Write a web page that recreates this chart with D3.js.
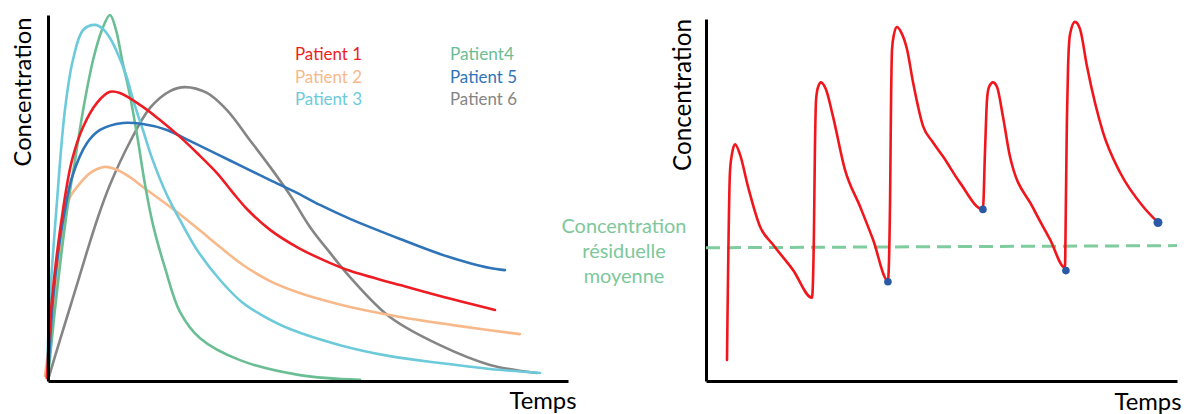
<!DOCTYPE html>
<html><head><meta charset="utf-8">
<script src="https://cdn.jsdelivr.net/npm/d3@7"></script>
<style>body{margin:0;background:#fff}svg{display:block}</style>
</head><body>
<svg id="chart" width="1186" height="414"></svg>
<script>
// ---------- DATA ----------
// Left panel: concentration-time profiles of six patients (time in h, concentration in arbitrary units)
const patientNames = ["Patient 1", "Patient 2", "Patient 3", "Patient4", "Patient 5", "Patient 6"];
const patientColors = ["#EE1D23", "#F8B98A", "#6CCADA", "#6BBE94", "#2F74B8", "#858585"];

const p1Time = [-0.05, 0.18, 0.69, 1.11, 1.62, 2.26, 2.86, 3.32, 4.38, 5.17, 6.09, 6.88, 7.80, 8.54, 9.18, 10.25, 11.49, 12.69, 13.94, 16.25, 18.09, 20.63];
const p1Conc = [0.8, 22.1, 46.7, 60.4, 69.4, 76.0, 79.0, 78.7, 74.9, 71.3, 66.7, 62.3, 56.8, 51.4, 47.0, 41.3, 36.6, 33.1, 30.1, 26.2, 23.2, 19.4];

const p2Time = [-0.14, 0.32, 0.78, 1.02, 1.34, 1.94, 2.63, 3.09, 3.78, 4.38, 5.77, 6.88, 7.94, 9.00, 10.25, 11.49, 12.69, 13.94, 16.25, 19.02, 21.78];
const p2Conc = [1.4, 22.1, 45.4, 50.3, 53.0, 56.8, 58.5, 57.9, 55.7, 53.0, 47.0, 41.8, 36.6, 31.7, 27.3, 24.3, 22.1, 20.2, 17.5, 15.0, 12.8];

const p3Time = [-0.05, 0.09, 0.42, 0.78, 1.15, 1.62, 2.17, 2.54, 2.86, 3.23, 3.60, 3.97, 4.38, 4.80, 5.49, 6.09, 6.88, 7.94, 9.00, 9.78, 11.17, 13.48, 15.78, 18.09, 20.40, 22.71];
const p3Conc = [0.8, 22.1, 49.5, 74.0, 87.7, 95.9, 97.3, 96.2, 93.7, 89.3, 83.6, 76.0, 68.6, 60.9, 50.8, 44.0, 35.8, 27.6, 21.3, 18.3, 14.2, 9.8, 6.8, 4.9, 3.3, 2.2];

const p4Time = [0, 0.37, 0.88, 1.25, 1.62, 2.08, 2.49, 2.86, 3.14, 3.42, 3.78, 4.11, 4.48, 4.85, 5.40, 6.09, 7.02, 8.86, 11.63, 14.40];
const p4Conc = [0.8, 22.1, 46.7, 60.4, 74.0, 87.7, 95.9, 100, 95.9, 87.7, 78.1, 67.2, 53.6, 42.6, 30.9, 18.9, 11.7, 5.7, 1.6, 0.3];

const p5Time = [0, 0.23, 0.55, 0.78, 1.11, 1.80, 2.40, 3.46, 4.38, 5.49, 6.55, 7.80, 9.00, 10.25, 11.49, 12.55, 13.94, 16.25, 18.09, 19.48, 20.40, 21.09];
const p5Conc = [0.8, 22.1, 38.5, 46.7, 55.7, 65.0, 68.6, 70.5, 70.2, 68.6, 65.6, 62.0, 58.5, 54.9, 51.4, 48.1, 44.3, 38.8, 34.7, 32.2, 30.9, 30.3];

const p6Time = [0, 0.55, 1.15, 1.75, 2.31, 2.86, 3.78, 4.71, 5.63, 6.32, 7.34, 8.26, 9.32, 10.25, 11.17, 12.09, 13.02, 13.94, 15.78, 18.09, 20.40, 22.57];
const p6Conc = [0.3, 11.2, 22.7, 34.4, 44.8, 53.6, 65.3, 74.6, 79.2, 80.3, 78.7, 74.0, 65.8, 58.5, 50.8, 42.1, 35.0, 28.4, 17.5, 9.8, 4.4, 2.2];

// Right panel: repeated dosing profile
const doseTime = [1.07, 1.22, 1.32, 1.48, 1.73, 2.14, 2.75, 3.41, 4.43, 5.40,
  5.50, 5.55, 5.61, 5.71, 5.86, 6.11, 6.47, 7.08, 7.85, 8.51, 9.27,
  9.38, 9.43, 9.48, 9.58, 9.73, 9.94, 10.24, 10.55, 11.06, 11.57, 12.08, 12.94, 14.11,
  14.22, 14.32, 14.42, 14.62, 14.83, 15.13, 15.49, 16.66, 17.53, 18.29,
  18.34, 18.39, 18.45, 18.55, 18.80, 19.06, 19.41, 20.23, 21.10, 22.27, 23.03];
const doseConc = [5.8, 57.6, 62.6, 65.4, 62.6, 53.7, 42.7, 37.7, 30.7, 23.0,
  41.0, 64.0, 77.8, 81.2, 82.5, 80.6, 73.1, 58.4, 48.2, 39.1, 27.7,
  50.1, 77.8, 91.7, 95.8, 97.8, 96.4, 91.7, 82.5, 70.4, 65.9, 62.0, 54.8, 47.4,
  64.0, 77.8, 81.2, 82.5, 81.2, 73.1, 62.0, 47.9, 39.1, 31.3,
  50.1, 72.0, 87.0, 95.8, 99.2, 97.2, 87.0, 68.7, 57.6, 48.2, 43.8];

const troughTime = [9.27, 14.11, 18.34, 23.03];
const troughConc = [27.4, 47.4, 30.5, 43.8];

const meanTroughTime = [0, 24];
const meanTroughConc = [36.8, 37.4];

const yAxisLabel = "Concentration";
const xAxisLabel = "Temps";
const meanTroughLabel = ["Concentration", "résiduelle", "moyenne"];

// ---------- DRAW ----------
const svg = d3.select("#chart");
const FONT = "Lato, 'Open Sans', sans-serif";

function zip(ts, cs) { return ts.map((t, i) => ({ t: t, c: cs[i] })); }
function fit(sel, target) {
  const base = 20;
  sel.attr("font-size", base);
  const len = sel.node().getComputedTextLength();
  sel.attr("font-size", (base * target / len).toFixed(2));
  return sel;
}
function styleAxis(g) {
  g.select(".domain").attr("stroke", "#000").attr("stroke-width", 3);
  g.selectAll(".tick").remove();
}

// Left panel
const xL = d3.scaleLinear().domain([0, 24]).range([48, 568]);
const yL = d3.scaleLinear().domain([0, 100]).range([381, 15]);
const left = svg.append("g");

const series = [
  { name: patientNames[5], color: patientColors[5], d: zip(p6Time, p6Conc) },
  { name: patientNames[1], color: patientColors[1], d: zip(p2Time, p2Conc) },
  { name: patientNames[3], color: patientColors[3], d: zip(p4Time, p4Conc) },
  { name: patientNames[2], color: patientColors[2], d: zip(p3Time, p3Conc) },
  { name: patientNames[4], color: patientColors[4], d: zip(p5Time, p5Conc) },
  { name: patientNames[0], color: patientColors[0], d: zip(p1Time, p1Conc) }
];
const lineL = d3.line().x(d => xL(d.t)).y(d => yL(d.c)).curve(d3.curveCatmullRom.alpha(0.5));
left.selectAll("path.pat").data(series).join("path")
  .attr("class", "pat")
  .attr("d", s => lineL(s.d))
  .attr("fill", "none")
  .attr("stroke", s => s.color)
  .attr("stroke-width", 2.6)
  .attr("stroke-linecap", "round")
  .attr("stroke-linejoin", "round");

left.append("g").attr("transform", "translate(0,381)")
  .call(d3.axisBottom(xL).tickValues([]).tickSizeOuter(0)).call(styleAxis);
left.append("g").attr("transform", "translate(48,0)")
  .call(d3.axisLeft(yL).tickValues([]).tickSizeOuter(0)).call(styleAxis);

// legend
const legX = [295, 450];
const legY = [60, 82.5, 105];
patientNames.forEach((n, i) => {
  const t = left.append("text")
    .attr("x", legX[Math.floor(i / 3)])
    .attr("y", legY[i % 3])
    .attr("fill", patientColors[i])
    .attr("font-family", FONT)
    .text(n);
  fit(t, n === "Patient4" ? 64 : 67);
});

fit(left.append("text")
  .attr("transform", "translate(31,92) rotate(-90)")
  .attr("text-anchor", "middle")
  .attr("font-family", FONT).attr("fill", "#000")
  .text(yAxisLabel), 149);
fit(left.append("text")
  .attr("x", 543).attr("y", 409).attr("text-anchor", "middle")
  .attr("font-family", FONT).attr("fill", "#000")
  .text(xAxisLabel), 67);

// Right panel
const xR = d3.scaleLinear().domain([0, 24]).range([706, 1177]);
const yR = d3.scaleLinear().domain([0, 100]).range([381, 19]);
const right = svg.append("g");

right.append("g").attr("transform", "translate(0,381)")
  .call(d3.axisBottom(xR).tickValues([]).tickSizeOuter(0)).call(styleAxis);
right.append("g").attr("transform", "translate(706,0)")
  .call(d3.axisLeft(yR).tickValues([]).tickSizeOuter(0)).call(styleAxis);

const lineR = d3.line().x(d => xR(d.t)).y(d => yR(d.c)).curve(d3.curveMonotoneX);
right.append("path")
  .attr("d", lineR(zip(meanTroughTime, meanTroughConc)))
  .attr("fill", "none").attr("stroke", "#7FCC9E")
  .attr("stroke-width", 3).attr("stroke-dasharray", "14,7");

right.append("path")
  .attr("d", lineR(zip(doseTime, doseConc)))
  .attr("fill", "none").attr("stroke", "#F0161C")
  .attr("stroke-width", 2.6).attr("stroke-linejoin", "round").attr("stroke-linecap", "round");

right.selectAll("circle.tr").data(zip(troughTime, troughConc)).join("circle")
  .attr("class", "tr")
  .attr("cx", d => xR(d.t)).attr("cy", d => yR(d.c))
  .attr("r", (d, i) => i === 3 ? 4.5 : 3.8)
  .attr("fill", "#2A5AA6");

fit(right.append("text")
  .attr("transform", "translate(691,95) rotate(-90)")
  .attr("text-anchor", "middle")
  .attr("font-family", FONT).attr("fill", "#000")
  .text(yAxisLabel), 152);
fit(right.append("text")
  .attr("x", 1148).attr("y", 410).attr("text-anchor", "middle")
  .attr("font-family", FONT).attr("fill", "#000")
  .text(xAxisLabel), 67);

const lblY = [233, 258, 283];
let lblSize = null;
meanTroughLabel.forEach((s, i) => {
  const t = right.append("text")
    .attr("x", 624).attr("y", lblY[i]).attr("text-anchor", "middle")
    .attr("font-family", FONT).attr("fill", "#7DC89B")
    .text(s);
  if (i === 0) { fit(t, 125); lblSize = t.attr("font-size"); }
  else t.attr("font-size", lblSize);
});
</script>
</body></html>
